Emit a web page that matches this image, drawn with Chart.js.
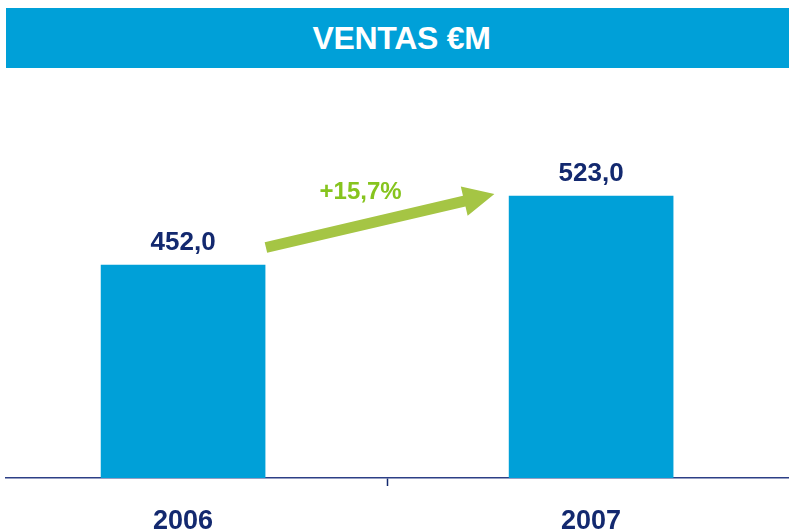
<!DOCTYPE html>
<html>
<head>
<meta charset="utf-8">
<script src="https://cdn.jsdelivr.net/npm/chart.js@4"></script>
<style>
  html, body { margin: 0; padding: 0; background: #fff; }
  #wrap { position: relative; width: 789px; height: 531px; overflow: hidden; }
  #banner {
    position: absolute; left: 6px; top: 8px; width: 783px; height: 60px;
    background: #00a0d8; color: #fff; z-index: 2;
    font: bold 32px "Liberation Sans", Arial, sans-serif;
    display: flex; align-items: center; justify-content: center;
  }
  #banner span { display: inline-block; margin-left: 8px; letter-spacing: -0.3px; }
  canvas { position: absolute; left: 0; top: 0; }
</style>
</head>
<body>
<div id="wrap">
  <div id="banner"><span>VENTAS €M</span></div>
  <canvas id="ventasChart" width="789" height="531"></canvas>
</div>
<script>
// Data
const years = [2006, 2007];
const ventas = [452.0, 523.0];
const titleText = 'VENTAS €M';

// Colours
const barColor = '#00a0d8';
const navy = '#13296f';
const green = '#86c41e';
const arrowGreen = '#a5c544';

const fmt = v => v.toFixed(1).replace('.', ',');
const growth = (ventas[1] / ventas[0] - 1) * 100;

// value labels + growth arrow
const annotations = {
  id: 'annotations',
  afterDatasetsDraw(chart) {
    const { ctx, scales: { x, y } } = chart;
    ctx.save();
    ctx.font = 'bold 26px "Liberation Sans", Arial, sans-serif';
    ctx.fillStyle = navy;
    ctx.textAlign = 'center';
    ctx.textBaseline = 'alphabetic';
    years.forEach((yr, i) => {
      ctx.fillText(fmt(ventas[i]), x.getPixelForValue(yr), y.getPixelForValue(ventas[i]) - 15);
    });

    // arrow from first bar towards second
    const x0 = x.getPixelForValue(years[0] + 0.203);
    const y0 = y.getPixelForValue(ventas[0] + 18);
    const x1 = x.getPixelForValue(years[0] + 0.763);
    const y1 = y.getPixelForValue(ventas[1] + 2);
    const ang = Math.atan2(y1 - y0, x1 - x0);
    const headLen = 31, headW = 15, shaftW = 5.5;
    const bx = x1 - headLen * Math.cos(ang), by = y1 - headLen * Math.sin(ang);
    const nx = -Math.sin(ang), ny = Math.cos(ang);
    ctx.fillStyle = arrowGreen;
    ctx.beginPath();
    ctx.moveTo(x0 + nx * shaftW, y0 + ny * shaftW);
    ctx.lineTo(bx + nx * shaftW, by + ny * shaftW);
    ctx.lineTo(bx + nx * headW, by + ny * headW);
    ctx.lineTo(x1, y1);
    ctx.lineTo(bx - nx * headW, by - ny * headW);
    ctx.lineTo(bx - nx * shaftW, by - ny * shaftW);
    ctx.lineTo(x0 - nx * shaftW, y0 - ny * shaftW);
    ctx.closePath();
    ctx.fill();

    ctx.font = 'bold 24px "Liberation Sans", Arial, sans-serif';
    ctx.fillStyle = green;
    ctx.textAlign = 'center';
    ctx.fillText('+' + fmt(growth) + '%', x.getPixelForValue(years[0] + 0.435), y.getPixelForValue(ventas[1] - 3));
    ctx.restore();
  }
};

new Chart(document.getElementById('ventasChart'), {
  type: 'bar',
  data: {
    datasets: [{
      label: titleText,
      data: years.map((yr, i) => ({ x: yr, y: ventas[i] })),
      backgroundColor: barColor,
      barThickness: 164,
      borderWidth: 0
    }]
  },
  options: {
    responsive: false,
    animation: false,
    layout: { padding: { top: 100, left: 6, right: 0, bottom: 0 } },
    plugins: { legend: { display: false }, tooltip: { enabled: false } },
    scales: {
      x: {
        type: 'linear',
        offset: false,
        min: 2005.566,
        max: 2007.485,
        afterBuildTicks: s => { s.ticks = [{ value: 2006 }, { value: 2006.5 }, { value: 2007 }]; },
        afterFit: s => { s.height = 53; },
        grid: {
          offset: false,
          drawOnChartArea: false,
          tickLength: 8,
          tickWidth: 1.5,
          color: c => (c.tick && c.tick.value === 2006.5) ? navy : 'rgba(0,0,0,0)'
        },
        border: { display: true, color: '#2c3f86', width: 1.5 },
        ticks: {
          padding: 19,
          maxRotation: 0,
          autoSkip: false,
          color: navy,
          font: { family: '"Liberation Sans", Arial, sans-serif', size: 27, weight: 'bold' },
          callback: v => (v === 2006.5 ? '' : String(v))
        }
      },
      y: {
        display: false,
        min: 232.8,
        max: 621.8
      }
    }
  },
  plugins: [annotations]
});
</script>
</body>
</html>
